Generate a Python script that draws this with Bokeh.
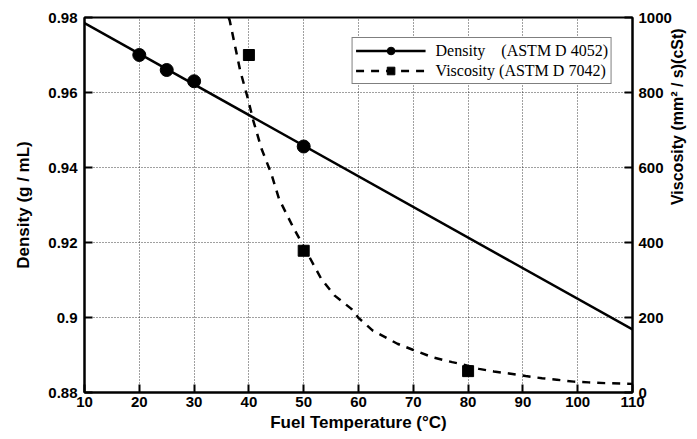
import math
from bokeh.plotting import figure
from bokeh.models import Range1d, LinearAxis, FixedTicker, Legend, LegendItem
from bokeh.embed import file_html
from bokeh.resources import INLINE

# ---- data ----
temp_ticks = [10, 20, 30, 40, 50, 60, 70, 80, 90, 100, 110]
density_ticks = [0.88, 0.90, 0.92, 0.94, 0.96, 0.98]
density_tick_labels = ["0.88", "0.9", "0.92", "0.94", "0.96", "0.98"]
visc_ticks = [0, 200, 400, 600, 800, 1000]

density_T = [20, 25, 30, 50]
density_vals = [0.970, 0.966, 0.963, 0.9456]
density_fit_T = [10, 110]
density_fit_vals = [0.9785, 0.8968]

visc_T = [40, 50, 80]
visc_vals = [900, 378, 57]
visc_curve_T = [36.3, 36.5, 38.4, 39.9, 40.8, 42.3, 44.1, 45.5, 48.1, 49.9, 53.2, 55.6,
                58.7, 60.0, 62.6, 67.1, 69.9, 73.5, 77.1, 78.7, 82.0, 84.7, 87.8,
                90.5, 93.5, 96.2, 99.3, 102.0, 105.0, 110.0]
visc_curve_vals = [1000, 992, 859, 779, 725, 650, 583, 516, 440, 392, 303, 259,
                   223, 199, 165, 130, 114, 94, 81, 76, 63, 56, 50,
                   44, 38, 34, 29, 27, 25, 23]

FONT = "Liberation Sans"
p = figure(width=697, height=439, x_range=Range1d(10, 110), y_range=Range1d(0.88, 0.98),
           output_backend="svg", toolbar_location=None,
           min_border_left=84, min_border_top=17, min_border_right=64, min_border_bottom=47)
p.extra_y_ranges = {"visc": Range1d(0, 1000)}

# axes
p.xaxis.ticker = FixedTicker(ticks=temp_ticks)
p.yaxis.ticker = FixedTicker(ticks=density_ticks)
p.yaxis.major_label_overrides = {t: l for t, l in zip(density_ticks, density_tick_labels)}
p.xaxis.axis_label = "Fuel Temperature (°C)"
p.yaxis.axis_label = "Density (g / mL)"

raxis = LinearAxis(y_range_name="visc", ticker=FixedTicker(ticks=visc_ticks),
                   axis_label="Viscosity (mm² / s)(cSt)")
p.add_layout(raxis, "right")

for ax in [p.xaxis[0], p.yaxis[0], raxis]:
    ax.axis_line_width = 2
    ax.axis_line_color = "black"
    ax.major_tick_in = 8
    ax.major_tick_out = 0
    ax.major_tick_line_width = 2
    ax.minor_tick_line_color = None
    ax.major_label_text_font = FONT
    ax.major_label_text_font_style = "bold"
    ax.major_label_text_font_size = "15px"
    ax.major_label_text_color = "black"
    ax.axis_label_text_font = FONT
    ax.axis_label_text_font_style = "bold"
    ax.axis_label_text_font_size = "17px"
    ax.axis_label_text_color = "black"
    ax.major_label_standoff = 7
    ax.axis_label_standoff = 12

p.xaxis.major_label_standoff = 4
p.xaxis.axis_label_standoff = 3
raxis.major_label_standoff = 6
raxis.axis_label_standoff = 3
raxis.axis_label_text_font_size = "16px"
raxis.axis_label_orientation = math.pi / 2

p.outline_line_color = "black"
p.outline_line_width = 2

for g in [p.xgrid[0], p.ygrid[0]]:
    g.grid_line_color = "black"
    g.grid_line_alpha = 0.75
    g.grid_line_dash = "1 2"
    g.grid_line_width = 1

# glyphs
d_line = p.line(density_fit_T, density_fit_vals, line_color="black", line_width=2.5)
d_pts = p.scatter(density_T, density_vals, marker="circle", size=13,
                  fill_color="black", line_color="black")
v_line = p.line(visc_curve_T, visc_curve_vals, y_range_name="visc", line_color="black",
                line_width=2.5, line_dash="8 7")
v_pts = p.scatter(visc_T, visc_vals, y_range_name="visc", marker="square", size=11,
                  fill_color="black", line_color="black")

nb = "\u00a0"
legend = Legend(items=[
    LegendItem(label="Density" + nb * 4 + "(ASTM D 4052)", renderers=[d_line, d_pts]),
    LegendItem(label="Viscosity (ASTM D 7042)", renderers=[v_line, v_pts]),
], location="top_right")
legend.label_text_font = "Liberation Serif"
legend.label_text_font_size = "16px"
legend.label_text_color = "black"
legend.border_line_color = "black"
legend.border_line_width = 1
legend.background_fill_alpha = 1
legend.glyph_width = 70
legend.glyph_height = 19
legend.label_height = 19
legend.label_standoff = 10
legend.padding = 3
legend.spacing = 1
legend.margin = 20
p.add_layout(legend, "center")

open("out.html", "w").write(file_html(p, INLINE))
